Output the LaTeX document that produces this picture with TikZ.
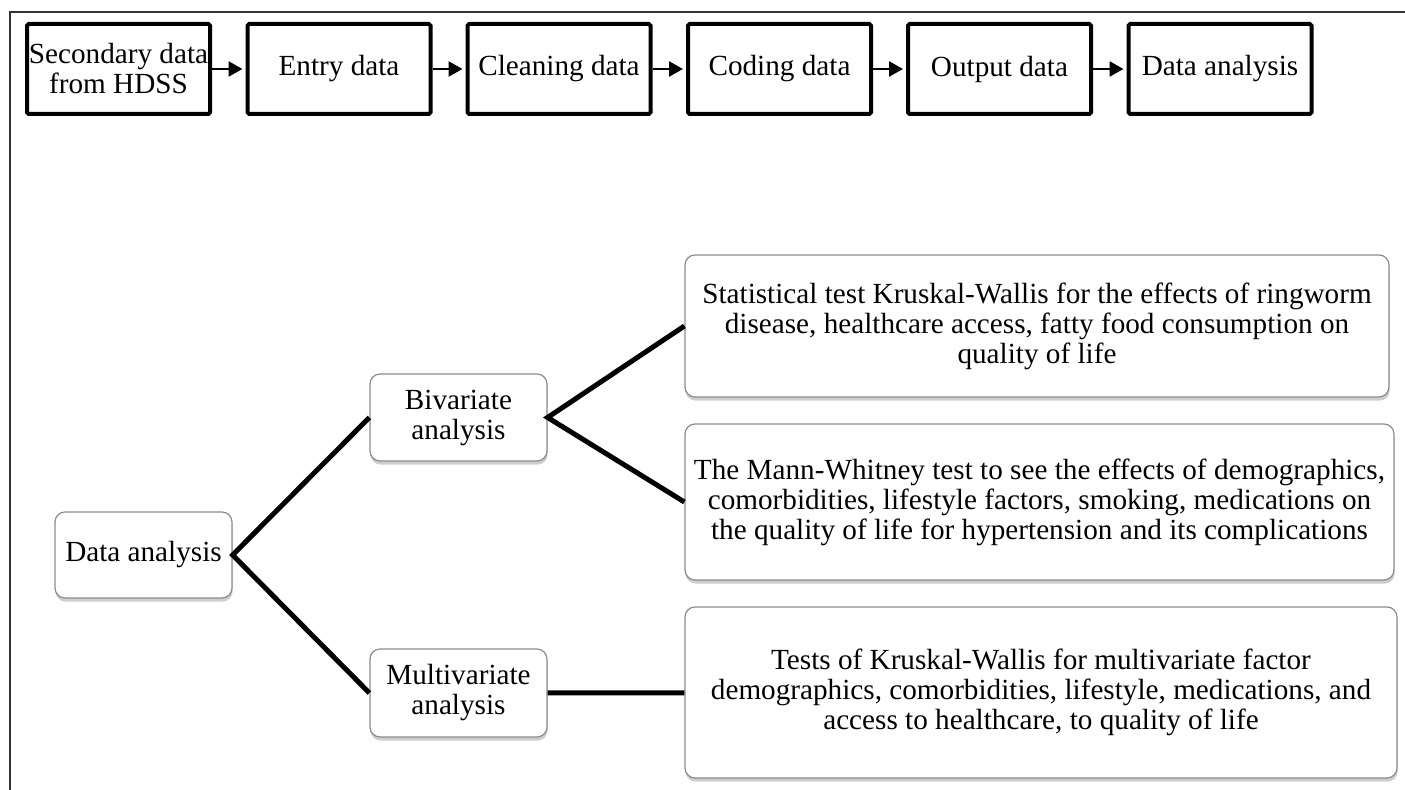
\documentclass[tikz,border=0pt]{standalone}
\usepackage{fontspec}
\setmainfont{Liberation Serif}
\usetikzlibrary{arrows.meta,shadows}

\tikzset{
  stepbox/.style={draw, line width=2pt, minimum width=91.5pt, minimum height=45pt,
    inner sep=0pt, align=center, rounded corners=0.8pt},
  testbox/.style={draw=black!45, line width=0.6pt, rounded corners=5pt, fill=white,
    align=center, inner sep=0pt,
    drop shadow={shadow xshift=0.3pt, shadow yshift=-1.8pt, opacity=0.35, fill=black!55}},
  flow/.style={-{Triangle[length=7pt,width=7.5pt]}, line width=1.3pt, shorten >=1.5pt},
  branch/.style={line width=2.5pt},
  frame/.style={line width=0.6pt, black!80},
}

\begin{document}
\begin{tikzpicture}[x=0.5pt, y=-0.5pt, font=\fontsize{14.6}{15}\selectfont]

            \useasboundingbox (0,0) rectangle (1405,790);

            \coordinate (corner) at (10,12);
            \coordinate (right) at (1405,12);
            \coordinate (bottom) at (10,790);

            \draw[frame] (bottom) -- (corner) -- (right);

            % data processing steps
            \node[stepbox] (secondary) at (118.5,69) {Secondary data\\from HDSS};
            \node[stepbox] (entry) at (339,69) {Entry data};
            \node[stepbox] (cleaning) at (559,69) {Cleaning data};
            \node[stepbox] (coding) at (779.5,69) {Coding data};
            \node[stepbox] (output) at (999.5,69) {Output data};
            \node[stepbox] (analysis) at (1220,69) {Data analysis};

            \draw[flow] (secondary) -- (entry);
            \draw[flow] (entry) -- (cleaning);
            \draw[flow] (cleaning) -- (coding);
            \draw[flow] (coding) -- (output);
            \draw[flow] (output) -- (analysis);

            % analysis tree
            \node[testbox, minimum width=88.5pt, minimum height=43pt]
            (data) at (143.5,555) {Data analysis};
            \node[testbox, minimum width=88.5pt, minimum height=43.5pt]
            (bivariate) at (458.5,417.5) {Bivariate\\analysis};
            \node[testbox, minimum width=88.5pt, minimum height=44pt]
            (multivariate) at (458.5,693) {Multivariate\\analysis};

            \node[testbox, minimum width=352pt, minimum height=71pt]
            (kruskal) at (1037,326)
            {Statistical test Kruskal-Wallis for the effects of ringworm\\
            disease, healthcare access, fatty food consumption on\\
            quality of life};
            \node[testbox, minimum width=354.5pt, minimum height=78pt]
            (mann) at (1039.5,502)
            {The Mann-Whitney test to see the effects of demographics,\\
            comorbidities, lifestyle factors, smoking, medications on\\
            the quality of life for hypertension and its complications};
            \node[testbox, minimum width=356pt, minimum height=85.5pt]
            (multi) at (1041,692.5)
            {Tests of Kruskal-Wallis for multivariate factor\\
            demographics, comorbidities, lifestyle, medications, and\\
            access to healthcare, to quality of life};

            \draw[branch] (bivariate.west) -- (data.east) -- (multivariate.west);
            \draw[branch] (kruskal.west) -- (bivariate.east) -- (mann.west);
            \draw[branch] (multivariate) -- (multi);

\end{tikzpicture}
\end{document}
